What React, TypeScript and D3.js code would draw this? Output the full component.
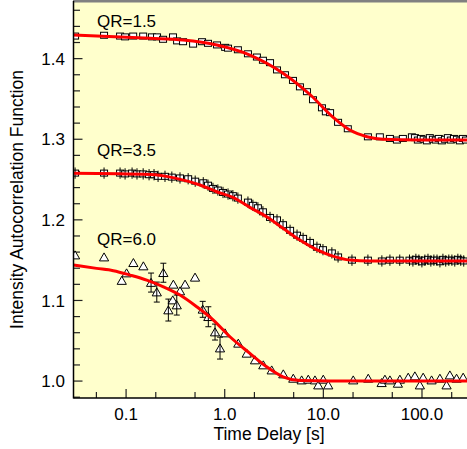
import React from 'react';
import * as d3 from 'd3';

const W = 467;
const H = 449;

const X_DOMAIN = [0.0293, 286];
const Y_DOMAIN = [0.979, 1.4715];

const X_MAJOR = [0.1, 1, 10, 100];
const X_MAJOR_LABELS = ['0.1', '1.0', '10.0', '100.0'];
const X_MINOR = [0.05, 0.2, 0.5, 2, 5, 20, 50, 200];
const Y_MAJOR = [1.0, 1.1, 1.2, 1.3, 1.4];
const Y_MAJOR_LABELS = ['1.0', '1.1', '1.2', '1.3', '1.4'];
const Y_MINOR = [0.98, 1.02, 1.04, 1.06, 1.08, 1.12, 1.14, 1.16, 1.18, 1.22, 1.24, 1.26, 1.28, 1.32, 1.34, 1.36, 1.38, 1.42, 1.44, 1.46];

const SERIES_LABELS = ['QR=1.5', 'QR=3.5', 'QR=6.0'];

// QR=1.5 data (squares)
const QR15_T = [0.0304, 0.0598, 0.0869, 0.0977, 0.118, 0.149, 0.183, 0.206, 0.237, 0.299, 0.329, 0.378, 0.478, 0.589, 0.677, 0.836, 1.01, 1.08, 1.36, 1.72, 2.12, 2.44, 2.88, 3.39, 4.08, 4.92, 5.79, 6.82, 7.85, 9.68, 10.6, 11.7, 14.1, 17.7, 28.3, 37.4, 47.3, 55.7, 64.0, 79.0, 84.8, 90.8, 97.5, 104, 112, 120, 129, 138, 148, 159, 171, 183, 196, 211, 226, 242, 260, 279];
const QR15_V = [1.428, 1.429, 1.428, 1.427, 1.428, 1.428, 1.427, 1.427, 1.424, 1.427, 1.422, 1.421, 1.418, 1.421, 1.419, 1.417, 1.414, 1.413, 1.411, 1.406, 1.402, 1.398, 1.395, 1.386, 1.380, 1.373, 1.365, 1.359, 1.349, 1.339, 1.334, 1.333, 1.321, 1.313, 1.303, 1.303, 1.301, 1.299, 1.301, 1.303, 1.302, 1.299, 1.301, 1.300, 1.298, 1.302, 1.300, 1.299, 1.301, 1.298, 1.300, 1.302, 1.299, 1.301, 1.300, 1.298, 1.301, 1.299];

// QR=3.5 data (squares with error bars)
const QR35_T = [0.0304, 0.0598, 0.0869, 0.0977, 0.115, 0.129, 0.149, 0.171, 0.192, 0.211, 0.248, 0.291, 0.352, 0.426, 0.502, 0.606, 0.677, 0.760, 0.852, 0.961, 1.08, 1.21, 1.36, 1.72, 1.93, 2.17, 2.44, 2.88, 3.39, 3.90, 4.60, 5.41, 6.23, 7.32, 8.61, 9.91, 12.2, 14.1, 19.5, 28.3, 39.2, 47.3, 59.5, 74.7, 80.9, 86.7, 93.0, 99.8, 107, 115, 123, 132, 142, 152, 163, 174, 187, 201, 215, 231, 247, 265];
const QR35_V = [1.258, 1.258, 1.258, 1.257, 1.258, 1.257, 1.257, 1.256, 1.256, 1.254, 1.254, 1.253, 1.252, 1.251, 1.248, 1.246, 1.243, 1.239, 1.237, 1.234, 1.232, 1.230, 1.227, 1.222, 1.218, 1.215, 1.210, 1.203, 1.200, 1.194, 1.187, 1.181, 1.177, 1.172, 1.166, 1.163, 1.159, 1.154, 1.150, 1.150, 1.149, 1.150, 1.150, 1.150, 1.149, 1.151, 1.150, 1.148, 1.150, 1.151, 1.149, 1.150, 1.150, 1.148, 1.151, 1.149, 1.150, 1.150, 1.149, 1.151, 1.150, 1.149];
const QR35_ERR = 0.007;

// QR=6.0 data (triangles, some with error bars)
const QR60_T = [0.0304, 0.0598, 0.0904, 0.1012, 0.1186, 0.1497, 0.1792, 0.2048, 0.2387, 0.3014, 0.3524, 0.3961, 0.5001, 0.2972, 0.2683, 0.3264, 0.5985, 0.6822, 0.7976, 0.8962, 1.007, 1.373, 1.671, 2.028, 2.461, 2.994, 3.925, 4.955, 6.028, 7.031, 8.221, 8.877, 9.977, 11.21, 20.09, 28.51, 38.97, 42.09, 47.29, 59.71, 57.0, 72.5, 84.7, 95.2, 102.8, 125.1, 151.9, 177.5, 191.7, 224.2, 261.5];
const QR60_V = [1.1563, 1.1538, 1.1247, 1.134, 1.1468, 1.1427, 1.1222, 1.1104, 1.1344, 1.12, 1.1117, 1.12, 1.1287, 1.1005, 1.0881, 1.0943, 1.089, 1.0798, 1.0608, 1.0409, 1.0596, 1.0468, 1.0344, 1.0261, 1.0199, 1.0136, 1.0087, 1.0033, 1.0012, 1.0021, 1.0012, 0.995, 1.0021, 0.995, 1.0012, 1.0033, 0.9979, 1.0021, 1.0012, 1.0021, 0.9971, 1.0046, 1.0062, 0.995, 1.0046, 1.0012, 1.0033, 0.995, 1.0074, 1.0033, 1.0046];
const QR60_ERR = [0, 0, 0, 0, 0, 0, 0.0118, 0.0124, 0.0118, 0, 0, 0, 0, 0, 0.0136, 0.0124, 0.0099, 0.0124, 0.0099, 0.0136, 0, 0, 0, 0, 0, 0, 0, 0, 0, 0, 0, 0, 0, 0, 0, 0, 0, 0, 0, 0, 0, 0, 0, 0, 0, 0, 0, 0, 0, 0, 0];

// Fit curves
const FIT15_T = [0.0292, 0.175, 0.378, 0.830, 1.80, 3.90, 7.32, 12.5, 18.6, 27.7, 40.4, 95.2, 300];
const FIT15_V = [1.4293, 1.4252, 1.4231, 1.4169, 1.4045, 1.382, 1.3555, 1.3275, 1.3114, 1.3031, 1.2999, 1.299, 1.299];
const FIT35_T = [0.0292, 0.175, 0.314, 0.562, 0.830, 1.21, 1.80, 2.66, 3.90, 5.78, 8.55, 12.5, 18.6, 29.6, 300];
const FIT35_V = [1.2577, 1.2562, 1.2518, 1.2432, 1.2349, 1.2279, 1.2155, 1.2038, 1.1895, 1.1749, 1.163, 1.155, 1.1501, 1.1489, 1.1489];
const FIT60_T = [0.0292, 0.0502, 0.0742, 0.110, 0.162, 0.239, 0.352, 0.520, 0.767, 1.13, 1.80, 2.66, 3.90, 5.78, 11.7, 300];
const FIT60_V = [1.1439, 1.1398, 1.1369, 1.1315, 1.1253, 1.117, 1.1067, 1.0922, 1.0757, 1.055, 1.0344, 1.0177, 1.0053, 1.0006, 1.0, 1.0];

const FONT = '"Liberation Sans", Arial, Helvetica, sans-serif';

export default function App() {
  const left = 73.5;
  const right = 467;
  const top = 1;
  const bottom = 398;

  const x = d3.scaleLog().domain(X_DOMAIN).range([left, right]);
  const y = d3.scaleLinear().domain(Y_DOMAIN).range([bottom, top]);

  const line = d3
    .line<[number, number]>()
    .x((d) => x(d[0]))
    .y((d) => y(d[1]))
    .curve(d3.curveMonotoneX);

  const fits = [
    d3.zip(FIT15_T, FIT15_V) as [number, number][],
    d3.zip(FIT35_T, FIT35_V) as [number, number][],
    d3.zip(FIT60_T, FIT60_V) as [number, number][],
  ];

  const sqW = 7;
  const sqH = 6;
  const tri = (cx: number, cy: number) =>
    `M${cx},${cy - 4.2}L${cx + 4.6},${cy + 3.8}L${cx - 4.6},${cy + 3.8}Z`;

  const labelPos = [
    [97, 27],
    [97, 156],
    [97, 245],
  ];

  return (
    <svg
      width={W}
      height={H}
      style={{ position: 'absolute', left: 0, top: 0, background: '#fff' }}
      fontFamily={FONT}
    >
      <defs>
        <clipPath id="plotclip">
          <rect x={left} y={top} width={right - left + 5} height={bottom - top} />
        </clipPath>
      </defs>
      <rect x={left} y={top} width={right - left + 5} height={bottom - top} fill="#FFFFCC" />

      {/* Ticks */}
      <g stroke="#222" strokeWidth={1.2}>
        {Y_MAJOR.map((v) => (
          <line key={'ym' + v} x1={left} x2={left + 9} y1={y(v)} y2={y(v)} />
        ))}
        {Y_MINOR.map((v) => (
          <line key={'yn' + v} x1={left} x2={left + 6.5} y1={y(v)} y2={y(v)} />
        ))}
        {X_MAJOR.map((t) => (
          <line key={'xm' + t} x1={x(t)} x2={x(t)} y1={bottom} y2={bottom - 9} />
        ))}
        {X_MINOR.map((t) => (
          <line key={'xn' + t} x1={x(t)} x2={x(t)} y1={bottom} y2={bottom - 6} />
        ))}
      </g>

      <g clipPath="url(#plotclip)">
        {/* QR=1.5 squares */}
        <g fill="#fff" stroke="#000" strokeWidth={1}>
          {QR15_T.map((t, i) => (
            <rect key={'a' + i} x={x(t) - sqW / 2} y={y(QR15_V[i]) - sqH / 2} width={sqW} height={sqH} />
          ))}
        </g>
        {/* QR=3.5 squares with error bars */}
        <g fill="#fff" stroke="#000" strokeWidth={1}>
          {QR35_T.map((t, i) => (
            <rect key={'b' + i} x={x(t) - sqW / 2} y={y(QR35_V[i]) - sqH / 2} width={sqW} height={sqH} />
          ))}
        </g>
        <g stroke="#000" strokeWidth={1}>
          {QR35_T.map((t, i) => (
            <line key={'be' + i} x1={x(t)} x2={x(t)} y1={y(QR35_V[i] + QR35_ERR)} y2={y(QR35_V[i] - QR35_ERR)} />
          ))}
        </g>
        {/* QR=6.0 triangles */}
        <g fill="#fff" stroke="#000" strokeWidth={1}>
          {QR60_T.map((t, i) => (
            <path key={'c' + i} d={tri(x(t), y(QR60_V[i]))} />
          ))}
        </g>
        <g stroke="#000" strokeWidth={1}>
          {QR60_T.map((t, i) =>
            QR60_ERR[i] > 0 ? (
              <g key={'ce' + i}>
                <line x1={x(t)} x2={x(t)} y1={y(QR60_V[i] + QR60_ERR[i])} y2={y(QR60_V[i] - QR60_ERR[i])} />
                <line x1={x(t) - 3} x2={x(t) + 3} y1={y(QR60_V[i] + QR60_ERR[i])} y2={y(QR60_V[i] + QR60_ERR[i])} />
                <line x1={x(t) - 3} x2={x(t) + 3} y1={y(QR60_V[i] - QR60_ERR[i])} y2={y(QR60_V[i] - QR60_ERR[i])} />
              </g>
            ) : null
          )}
        </g>
        {/* Fit lines */}
        {fits.map((f, i) => (
          <path key={'f' + i} d={line(f) || ''} fill="none" stroke="#FF0000" strokeWidth={3} />
        ))}
      </g>

      {/* Frame */}
      <line x1={left - 0.5} x2={right} y1={1.2} y2={1.2} stroke="#808080" strokeWidth={2.5} />
      <line x1={left} x2={left} y1={top} y2={bottom + 0.5} stroke="#000" strokeWidth={1.5} />
      <line x1={left} x2={right} y1={bottom} y2={bottom} stroke="#000" strokeWidth={1.5} />

      {/* Series labels */}
      {SERIES_LABELS.map((s, i) => (
        <text key={s} x={labelPos[i][0]} y={labelPos[i][1]} fontSize={17} fill="#000">
          {s}
        </text>
      ))}

      {/* Tick labels */}
      {Y_MAJOR.map((v, i) => (
        <text key={'yl' + v} x={65} y={y(v)} dy="0.36em" textAnchor="end" fontSize={17} fill="#000">
          {Y_MAJOR_LABELS[i]}
        </text>
      ))}
      {X_MAJOR.map((t, i) => (
        <text key={'xl' + t} x={x(t)} y={420} textAnchor="middle" fontSize={17} fill="#000">
          {X_MAJOR_LABELS[i]}
        </text>
      ))}

      {/* Axis titles */}
      <text x={269} y={439.5} textAnchor="middle" fontSize={17.5} fill="#000">
        Time Delay [s]
      </text>
      <text
        transform={`translate(23,199.5) rotate(-90)`}
        textAnchor="middle"
        fontSize={17.5}
        fill="#000"
      >
        Intensity Autocorrelation Function
      </text>
    </svg>
  );
}
